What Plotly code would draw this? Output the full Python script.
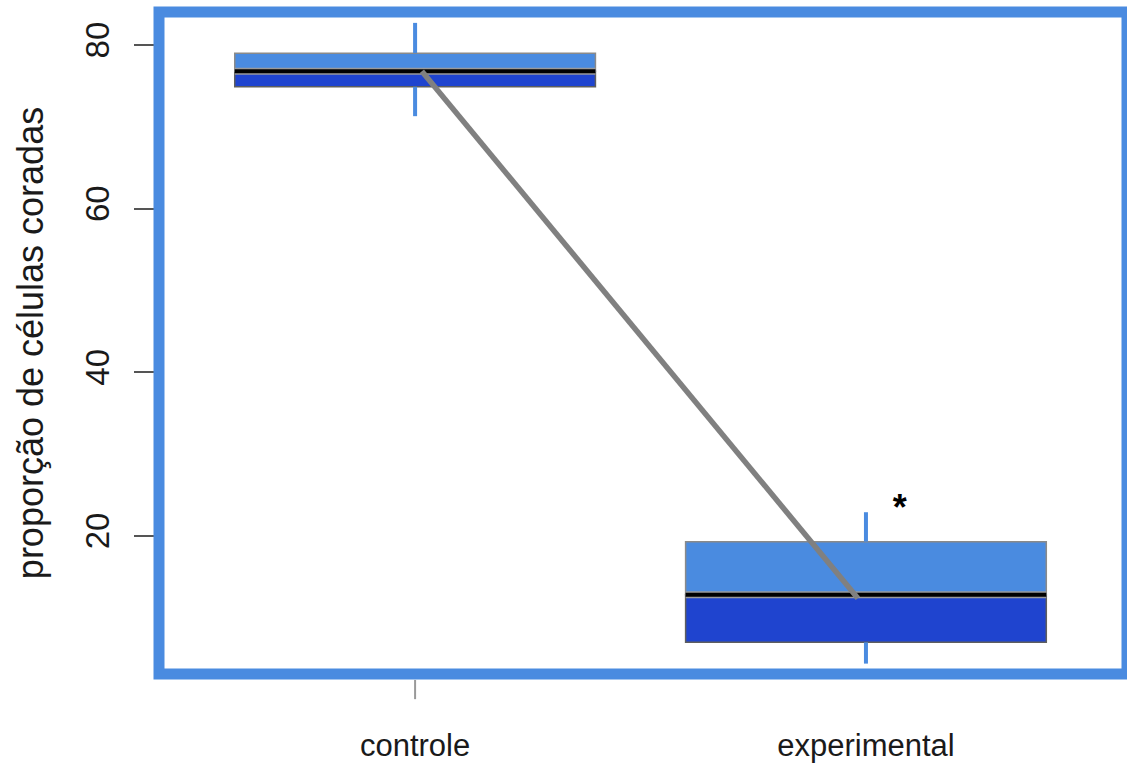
import plotly.graph_objects as go

# ---- data ----
categories = ["controle", "experimental"]
positions = [1, 2]
q1 = [74.9, 7.0]
median = [76.8, 12.8]
q3 = [79.0, 19.3]
whisker_low = [71.3, 4.4]
whisker_high = [82.7, 22.9]
trend_x = [1.015, 1.982]
trend_y = [76.8, 12.4]
star_x = [2.075]
star_y = [23.1]
y_ticks = [20, 40, 60, 80]

LIGHT = "#4a8be0"
DARK = "#1f44cf"
GRAY = "#808080"
BOX_W = 0.8
FONT = "Liberation Sans, Arial, sans-serif"

fig = go.Figure()

# whiskers (outside the boxes)
wx, wy = [], []
for p, lo, a, b, hi in zip(positions, whisker_low, q1, q3, whisker_high):
    wx += [p, p, None, p, p, None]
    wy += [lo, a, None, b, hi, None]
fig.add_trace(go.Scatter(x=wx, y=wy, mode="lines",
                         line=dict(color=LIGHT, width=4), hoverinfo="skip"))

# lower half of boxes (q1 -> median)
fig.add_trace(go.Bar(x=positions, base=q1,
                     y=[m - a for m, a in zip(median, q1)],
                     width=BOX_W, marker=dict(color=DARK, line=dict(color="#5e5e5e", width=1.5)),
                     hoverinfo="skip"))
# upper half of boxes (median -> q3)
fig.add_trace(go.Bar(x=positions, base=median,
                     y=[b - m for b, m in zip(q3, median)],
                     width=BOX_W, marker=dict(color=LIGHT, line=dict(color="#8a8a8a", width=1.5)),
                     hoverinfo="skip"))

# median lines
mx, my = [], []
for p, m in zip(positions, median):
    mx += [p - BOX_W / 2, p + BOX_W / 2, None]
    my += [m, m, None]
fig.add_trace(go.Scatter(x=mx, y=my, mode="lines",
                         line=dict(color="#9a9a9a", width=7), hoverinfo="skip"))
fig.add_trace(go.Scatter(x=mx, y=my, mode="lines",
                         line=dict(color="black", width=4), hoverinfo="skip"))

# trend line
fig.add_trace(go.Scatter(x=trend_x, y=trend_y, mode="lines",
                         line=dict(color=GRAY, width=5.5), hoverinfo="skip"))

# significance star
fig.add_trace(go.Scatter(x=star_x, y=star_y, mode="text", text=["<b>*</b>"],
                         textposition="middle center",
                         textfont=dict(family=FONT, size=36, color="black"),
                         hoverinfo="skip"))

# frame around plotting region
fig.add_shape(type="rect", xref="paper", yref="paper", x0=0, x1=1, y0=0, y1=1,
              line=dict(color=LIGHT, width=11), layer="above")

# single visible x tick (control)
fig.add_shape(type="line", xref="x", yref="paper", x0=positions[0], x1=positions[0],
              y0=-0.009, y1=-0.038, line=dict(color="#999999", width=2))

fig.update_layout(
    width=1127, height=769,
    margin=dict(l=159, r=0, t=12, b=95),
    paper_bgcolor="white", plot_bgcolor="white",
    showlegend=False, barmode="overlay", hovermode=False,
    font=dict(family=FONT, size=30, color="#1a1a1a"),
    xaxis=dict(range=[0.432, 2.579], tickvals=positions, ticktext=categories,
               showgrid=False, zeroline=False, showline=False, ticks="",
               ticklabelstandoff=50, tickfont=dict(size=31)),
    yaxis=dict(range=[3.13, 84.03], tickvals=y_ticks, showgrid=False, zeroline=False,
               showline=False, ticks="outside", ticklen=24, tickwidth=2,
               tickcolor="#555555", tickangle=-90, ticklabelstandoff=12,
               tickfont=dict(size=33),
               title=dict(text="proporção de células coradas", font=dict(size=36), standoff=24)),
)

fig.write_html("out.html", config={"displayModeBar": False},
               post_script="document.body.style.margin='0';")
